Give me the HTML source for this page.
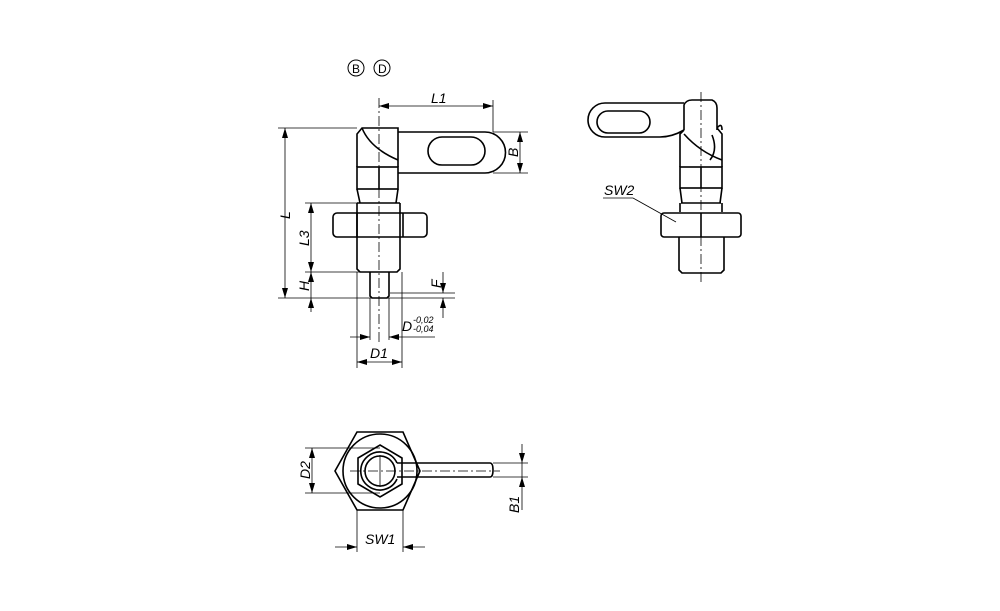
<!DOCTYPE html>
<html><head><meta charset="utf-8"><style>
html,body{margin:0;padding:0;background:#fff}
svg{display:block}
text{font-family:"Liberation Sans",sans-serif;font-style:italic;font-size:14px;fill:#000}
</style></head><body>
<svg width="1000" height="611" viewBox="0 0 1000 611" xmlns="http://www.w3.org/2000/svg">
<defs>
<marker id="a" viewBox="0 0 10 6" refX="10" refY="3" markerWidth="10" markerHeight="6" orient="auto-start-reverse" markerUnits="userSpaceOnUse"><path d="M0,0 L10,3 L0,6z" fill="#000"/></marker>
</defs>
<g fill="none" stroke="#000" stroke-width="1">
<circle cx="356" cy="68" r="8"/><circle cx="382" cy="68" r="8"/>
</g>
<text x="352" y="73" style="font-style:normal;font-size:12px">B</text>
<text x="378" y="73" style="font-style:normal;font-size:12px">D</text>

<!-- MAIN VIEW -->
<g fill="none" stroke="#000" stroke-width="1.6">
<path d="M357,167 L357,134 L362,128 L398,128 L398,167"/>
<path d="M362,128 Q370,148 398,160"/>
<path d="M398,132 L485,132 A20,20 0 0 1 485,173 L398,173"/>
<rect x="428" y="137" width="57" height="28" rx="14"/>
<rect x="357" y="167" width="41" height="22"/>
<line x1="379" y1="167" x2="379" y2="189"/>
<path d="M357,189 L360,203 M398,189 L396,203"/>
<rect x="333" y="213" width="94" height="24" rx="4"/>
<line x1="357" y1="213" x2="357" y2="237"/><line x1="403" y1="213" x2="403" y2="237"/>
<path d="M357,203 L357,269 L360,272 L397,272 L400,269 L400,203"/>
<line x1="357" y1="203" x2="400" y2="203"/>
<path d="M370,272 L370,296 L372,298 L387,298 L389,296 L389,272"/>
</g>
<g fill="none" stroke="#000" stroke-width="0.8">
<line x1="379" y1="98" x2="379" y2="345" stroke-dasharray="10,3,2,3"/>
<line x1="278" y1="128" x2="357" y2="128"/>
<line x1="278" y1="298" x2="455" y2="298"/>
<line x1="285" y1="128" x2="285" y2="298" marker-start="url(#a)" marker-end="url(#a)"/>
<line x1="305" y1="203" x2="357" y2="203"/>
<line x1="305" y1="272" x2="370" y2="272"/>
<line x1="311" y1="203" x2="311" y2="272" marker-start="url(#a)" marker-end="url(#a)"/>
<line x1="311" y1="282" x2="311" y2="272" marker-end="url(#a)"/>
<line x1="311" y1="312" x2="311" y2="298" marker-end="url(#a)"/>
<line x1="311" y1="272" x2="311" y2="298"/>
<line x1="390" y1="293" x2="455" y2="293"/>
<line x1="443" y1="272" x2="443" y2="293" marker-end="url(#a)"/>
<line x1="443" y1="318" x2="443" y2="298" marker-end="url(#a)"/>
<line x1="370" y1="298" x2="370" y2="340"/><line x1="389" y1="298" x2="389" y2="340"/>
<line x1="350" y1="337" x2="370" y2="337" marker-end="url(#a)"/>
<line x1="435" y1="337" x2="389" y2="337" marker-end="url(#a)"/>
<line x1="357" y1="272" x2="357" y2="368"/><line x1="402" y1="272" x2="402" y2="368"/>
<line x1="357" y1="362" x2="402" y2="362" marker-start="url(#a)" marker-end="url(#a)"/>
<line x1="379" y1="106" x2="493" y2="106" marker-start="url(#a)" marker-end="url(#a)"/>
<line x1="493" y1="100" x2="493" y2="132"/>
<line x1="493" y1="132" x2="528" y2="132"/><line x1="493" y1="173" x2="528" y2="173"/>
<line x1="520" y1="132" x2="520" y2="173" marker-start="url(#a)" marker-end="url(#a)"/>
</g>
<text x="431" y="103">L1</text>
<text transform="translate(518,157) rotate(-90)">B</text>
<text transform="translate(290,219) rotate(-90)">L</text>
<text transform="translate(309,246) rotate(-90)">L3</text>
<text transform="translate(309,291) rotate(-90)">H</text>
<text transform="translate(441,288) rotate(-90)">F</text>
<text x="402" y="331">D</text>
<text x="413" y="323" style="font-size:9px">-0,02</text>
<text x="413" y="332" style="font-size:9px">-0,04</text>
<text x="370" y="358">D1</text>

<!-- RIGHT VIEW -->
<g fill="none" stroke="#000" stroke-width="1.6">
<path d="M684,130 L684,105 Q686,100 692,100 L712,100 Q717,102 717,108 L717,130"/>
<path d="M684,103 L605,103 A17,17 0 0 0 605,137 L660,137 Q672,137 684,130"/>
<rect x="597" y="111" width="53" height="22" rx="11"/>
<path d="M680,167 L680,134 L684,130 M722,167 L722,134 L717,128"/>
<path d="M684,134 Q700,152 722,160"/>
<path d="M717,128 Q722,122 722,130 M712,135 Q718,150 710,160"/>
<rect x="680" y="167" width="42" height="21"/>
<line x1="701" y1="167" x2="701" y2="188"/>
<path d="M680,188 L682,203 M722,188 L720,203 M681,203 L721,203"/>
<rect x="661" y="213" width="80" height="24" rx="3"/>
<line x1="701" y1="213" x2="701" y2="237"/>
<path d="M680,203 L680,212 M722,203 L722,212"/>
<path d="M679,237 L679,270 L682,273 L721,273 L724,270 L724,237"/>
</g>
<g fill="none" stroke="#000" stroke-width="0.8">
<line x1="701" y1="92" x2="701" y2="285" stroke-dasharray="10,3,2,3"/>
<line x1="603" y1="198" x2="633" y2="198"/><line x1="633" y1="198" x2="676" y2="222"/>
</g>
<text x="604" y="195">SW2</text>

<!-- BOTTOM VIEW -->
<g fill="none" stroke="#000" stroke-width="1.6">
<polygon points="357,432 403,432 420,471 403,510 357,510 335,471"/>
<circle cx="380" cy="471" r="37"/>
<polygon points="380,445 402,458 402,484 380,497 358,484 358,458"/>
<path d="M397,463 A19,19 0 1 0 397,479"/>
<circle cx="380" cy="471" r="15"/>
<path d="M397,463 L490,463 Q493,463 493,470 Q493,477 490,477 L397,477"/>
</g>
<g fill="none" stroke="#000" stroke-width="0.8">
<line x1="350" y1="471" x2="500" y2="471" stroke-dasharray="10,3,2,3"/>
<line x1="380" y1="455" x2="380" y2="487"/>
<line x1="305" y1="448" x2="380" y2="448"/><line x1="305" y1="493" x2="380" y2="493"/>
<line x1="312" y1="448" x2="312" y2="493" marker-start="url(#a)" marker-end="url(#a)"/>
<line x1="493" y1="463" x2="528" y2="463"/><line x1="493" y1="477" x2="528" y2="477"/>
<line x1="522" y1="444" x2="522" y2="463" marker-end="url(#a)"/>
<line x1="522" y1="510" x2="522" y2="477" marker-end="url(#a)"/>
<line x1="522" y1="463" x2="522" y2="477"/>
<line x1="357" y1="510" x2="357" y2="552"/><line x1="403" y1="510" x2="403" y2="552"/>
<line x1="335" y1="547" x2="357" y2="547" marker-end="url(#a)"/>
<line x1="425" y1="547" x2="403" y2="547" marker-end="url(#a)"/>
</g>
<text transform="translate(310,479) rotate(-90)">D2</text>
<text transform="translate(519,513) rotate(-90)">B1</text>
<text x="365" y="544">SW1</text>
</svg>
</body></html>
